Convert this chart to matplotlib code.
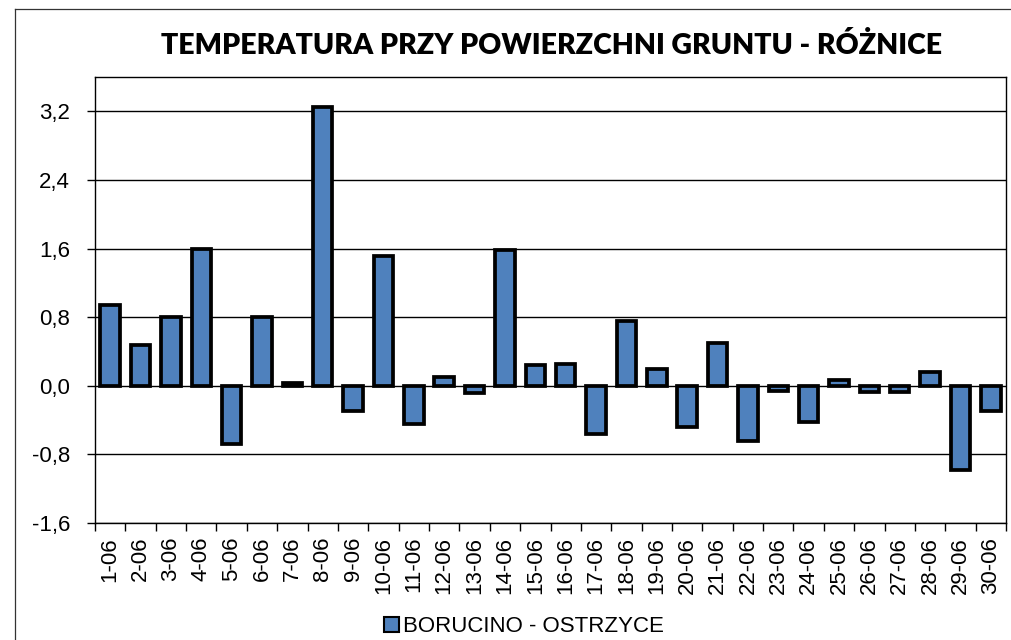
import matplotlib
matplotlib.use("Agg")
import matplotlib.pyplot as plt
import numpy as np
from matplotlib.lines import Line2D
from matplotlib.patches import Patch
from matplotlib.ticker import FixedLocator, FuncFormatter

# data
days = [f"{d}-06" for d in range(1, 31)]
diffs = [0.94, 0.47, 0.80, 1.60, -0.68, 0.80, 0.03, 3.25, -0.30, 1.51,
         -0.44, 0.10, -0.09, 1.58, 0.24, 0.25, -0.56, 0.76, 0.20, -0.48,
         0.50, -0.64, -0.06, -0.42, 0.07, -0.07, -0.07, 0.16, -0.98, -0.30]
y_ticks = [-1.6, -0.8, 0.0, 0.8, 1.6, 2.4, 3.2]
series_name = "BORUCINO - OSTRZYCE"
title = "TEMPERATURA PRZY POWIERZCHNI GRUNTU - RÓŻNICE"

W, H = 1011, 640
fig = plt.figure(figsize=(W / 100, H / 100), dpi=100)

# axes box in pixels: left 95, right 1006, top 77, bottom 523
ax = fig.add_axes([95 / W, 1 - 523 / H, (1006 - 95) / W, (523 - 77) / H])

x = np.arange(len(days))
ax.bar(x, diffs, width=0.64, color="#4F81BD", edgecolor="black",
       linewidth=2.7, zorder=3)

ax.set_xlim(-0.5, len(days) - 0.5)
ax.set_ylim(-1.6, 3.6)
ax.yaxis.set_major_locator(FixedLocator(y_ticks))
ax.yaxis.set_major_formatter(FuncFormatter(lambda v, p: f"{v:.1f}".replace(".", ",")))
ax.yaxis.grid(True, color="black", linewidth=1.0, zorder=1)

ax.set_xticks(x)
ax.set_xticklabels(days, rotation=90, ha="center", va="top")
ax.set_xticks(np.arange(-0.5, len(days), 1), minor=True)
ax.tick_params(axis="x", which="major", length=0, pad=10, labelsize=16)
ax.tick_params(axis="x", which="minor", length=6, width=1.0, direction="out")
ax.tick_params(axis="y", length=6, width=1.0, direction="out", pad=12, labelsize=16)

for s in ax.spines.values():
    s.set_color("black")
    s.set_linewidth(1.0)

for lbl in ax.get_xticklabels() + ax.get_yticklabels():
    lbl.set_family("Liberation Sans")

fig.text(552 / W, 1 - 54 / H, title, ha="center", va="baseline",
         fontsize=20.5, fontweight="heavy", family="Lato")

handle = Patch(facecolor="#4F81BD", edgecolor="black", linewidth=1.5)
fig.legend([handle], [series_name], loc="center", bbox_to_anchor=(524 / W, 1 - 627 / H),
           frameon=False, prop={"family": "Liberation Sans", "size": 16},
           handlelength=0.65, handleheight=0.65, handletextpad=0.2, borderpad=0)

# outer chart border (left and top edges visible)
fig.add_artist(Line2D([14.5 / W, 14.5 / W], [0, 1 - 8.5 / H], color="#333333",
                      linewidth=0.9, transform=fig.transFigure))
fig.add_artist(Line2D([14.5 / W, 1], [1 - 8.5 / H, 1 - 8.5 / H], color="#333333",
                      linewidth=0.9, transform=fig.transFigure))

fig.savefig("out.png", dpi=100)
